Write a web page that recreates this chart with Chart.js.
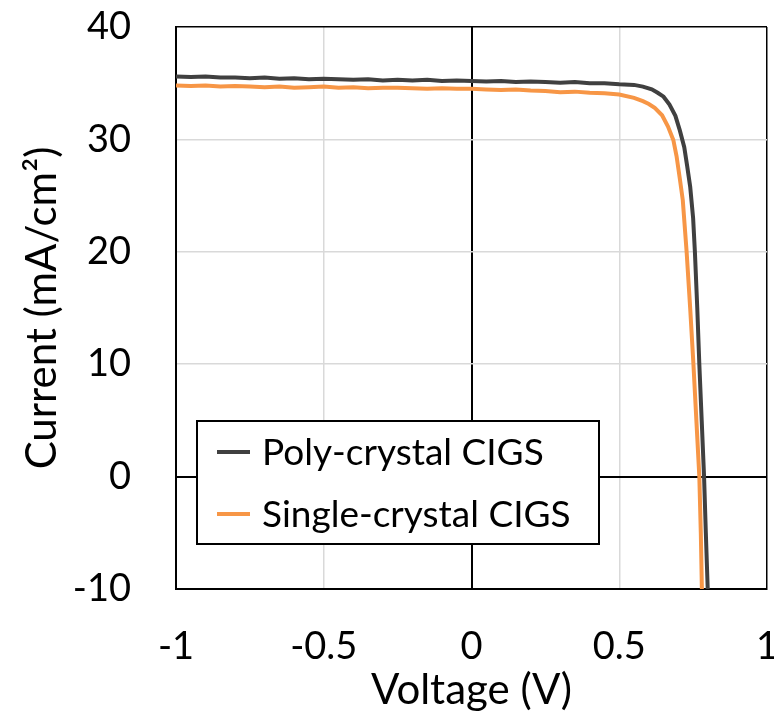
<!DOCTYPE html>
<html>
<head>
<meta charset="utf-8">
<script src="https://cdn.jsdelivr.net/npm/chart.js@4/dist/chart.umd.min.js"></script>
<style>
  body { margin: 0; background: #fff; }
  canvas { display: block; }
</style>
</head>
<body>
<canvas id="ivChart" width="774" height="716"></canvas>
<script>
const seriesNames = ['Poly-crystal CIGS', 'Single-crystal CIGS'];
const seriesColors = ['#404040', '#F79646'];

// poly-crystal J-V curve
const polyV = [-1, -0.95, -0.9, -0.85, -0.8, -0.75, -0.7, -0.65, -0.6, -0.55, -0.5, -0.45, -0.4, -0.35, -0.3, -0.25, -0.2, -0.15, -0.1, -0.05,
  0, 0.05, 0.1, 0.15, 0.2, 0.25, 0.3, 0.35, 0.4, 0.45, 0.5, 0.55, 0.58, 0.61, 0.63, 0.65, 0.67, 0.69, 0.705, 0.72, 0.73, 0.74, 0.75,
  0.756, 0.764, 0.771, 0.779, 0.787, 0.793, 0.8];
const polyI = [35.6, 35.55, 35.6, 35.5, 35.5, 35.45, 35.5, 35.4, 35.45, 35.35, 35.4, 35.35, 35.3, 35.35, 35.25, 35.3, 35.25, 35.3, 35.2, 35.25,
  35.2, 35.15, 35.2, 35.1, 35.15, 35.1, 35.05, 35.1, 35.0, 35.0, 34.9, 34.85, 34.7, 34.45, 34.15, 33.8, 33.1, 32.1, 30.8, 29.3, 27.6, 25.8, 23.0,
  20.0, 15.0, 10.0, 5.0, 0.0, -5.0, -10.5];

// single-crystal J-V curve
const singleV = [-1, -0.95, -0.9, -0.85, -0.8, -0.75, -0.7, -0.65, -0.6, -0.55, -0.5, -0.45, -0.4, -0.35, -0.3, -0.25, -0.2, -0.15, -0.1, -0.05,
  0, 0.05, 0.1, 0.15, 0.2, 0.25, 0.3, 0.35, 0.4, 0.45, 0.5, 0.55, 0.58, 0.6, 0.62, 0.645, 0.665, 0.683, 0.694, 0.705, 0.715, 0.728,
  0.74, 0.751, 0.761, 0.771, 0.776, 0.78];
const singleI = [34.8, 34.75, 34.8, 34.7, 34.75, 34.7, 34.65, 34.7, 34.6, 34.65, 34.7, 34.6, 34.65, 34.55, 34.6, 34.6, 34.55, 34.5, 34.55, 34.5,
  34.5, 34.45, 34.4, 34.45, 34.35, 34.3, 34.2, 34.25, 34.15, 34.1, 34.0, 33.7, 33.4, 33.15, 32.8, 32.15, 31.15, 29.95, 28.5, 26.5, 24.6, 20.0,
  15.0, 10.0, 5.0, 0.0, -5.0, -10.5];

const xTicks = [-1, -0.5, 0, 0.5, 1];
const yTicks = [-10, 0, 10, 20, 30, 40];

const FONT = 'Lato, "Open Sans", sans-serif';

function toPoints(xs, ys) {
  return xs.map((x, i) => ({ x: x, y: ys[i] }));
}

function gridColor(ctx, ticks) {
  const v = ctx.tick ? ctx.tick.value : null;
  if (v === 0 || v === ticks[0] || v === ticks[ticks.length - 1]) return '#000';
  return '#d9d9d9';
}

// legend box inside the plot, lower left
const boxLegend = {
  id: 'boxLegend',
  afterDraw(chart) {
    const c = chart.ctx;
    const x0 = 197, y0 = 421, w = 402, h = 123;
    c.save();
    c.fillStyle = '#fff';
    c.fillRect(x0, y0, w, h);
    c.strokeStyle = '#000';
    c.lineWidth = 2;
    c.strokeRect(x0, y0, w, h);
    c.font = '37px ' + FONT;
    c.textBaseline = 'middle';
    chart.data.datasets.forEach((ds, i) => {
      const y = y0 + 31 + i * 62;
      c.strokeStyle = ds.borderColor;
      c.lineWidth = 4;
      c.beginPath();
      c.moveTo(x0 + 20, y);
      c.lineTo(x0 + 53, y);
      c.stroke();
      c.fillStyle = '#000';
      c.fillText(ds.label, x0 + 65, y + 1);
    });
    c.restore();
  }
};

const ctx = document.getElementById('ivChart');
const ivChart = new Chart(ctx, {
  type: 'scatter',
  data: {
    datasets: [
      {
        label: seriesNames[0],
        data: toPoints(polyV, polyI),
        borderColor: seriesColors[0],
        backgroundColor: seriesColors[0],
        borderWidth: 4,
        showLine: true,
        pointRadius: 0,
        tension: 0
      },
      {
        label: seriesNames[1],
        data: toPoints(singleV, singleI),
        borderColor: seriesColors[1],
        backgroundColor: seriesColors[1],
        borderWidth: 4,
        showLine: true,
        pointRadius: 0,
        tension: 0
      }
    ]
  },
  options: {
    responsive: false,
    animation: false,
    layout: { padding: { left: 0, right: 7, top: 27, bottom: 0 } },
    plugins: {
      legend: { display: false },
      tooltip: { enabled: false }
    },
    scales: {
      x: {
        type: 'linear',
        min: xTicks[0],
        max: xTicks[xTicks.length - 1],
        afterBuildTicks: (s) => { s.ticks = xTicks.map(v => ({ value: v })); },
        afterFit: (s) => { s.height = 127; s.paddingLeft = 0; s.paddingRight = 0; },
        grid: {
          color: (c) => gridColor(c, xTicks),
          lineWidth: (c) => (c.tick && c.tick.value === 0) ? 2 : 1.5,
          drawTicks: false
        },
        border: { color: '#000', width: 2 },
        ticks: {
          color: '#000',
          font: { family: FONT, size: 38 },
          padding: 35,
          maxRotation: 0,
          callback: (v) => String(v)
        },
        title: {
          display: true,
          text: 'Voltage (V)',
          color: '#000',
          font: { family: FONT, size: 42 },
          padding: { top: 0, bottom: 0 }
        }
      },
      y: {
        type: 'linear',
        min: yTicks[0],
        max: yTicks[yTicks.length - 1],
        afterBuildTicks: (s) => { s.ticks = yTicks.map(v => ({ value: v })); },
        afterFit: (s) => { s.width = 176; s.paddingTop = 0; s.paddingBottom = 0; },
        grid: {
          color: (c) => gridColor(c, yTicks),
          lineWidth: (c) => (c.tick && c.tick.value === 0) ? 2 : 1.5,
          drawTicks: false
        },
        border: { color: '#000', width: 2 },
        ticks: {
          color: '#000',
          font: { family: FONT, size: 38 },
          padding: 45,
          callback: (v) => String(v)
        },
        title: {
          display: true,
          text: 'Current (mA/cm²)',
          color: '#000',
          font: { family: FONT, size: 42 },
          padding: { top: 17, bottom: 0 }
        }
      }
    }
  },
  plugins: [boxLegend]
});
</script>
</body>
</html>
